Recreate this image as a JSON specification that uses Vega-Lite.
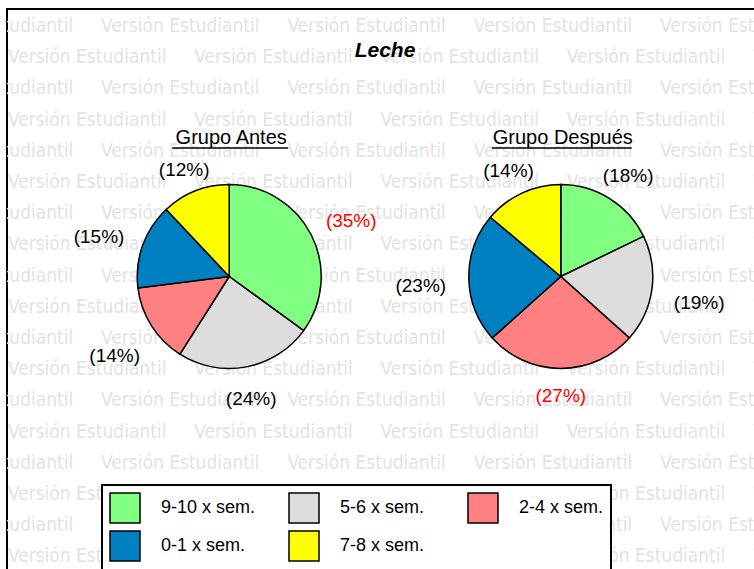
{
  "$schema": "https://vega.github.io/schema/vega-lite/v6.json",
  "width": 756,
  "height": 570,
  "autosize": {"type": "none"},
  "padding": {"left": 7, "top": 9, "right": -9, "bottom": -10},
  "background": "white",
  "title": {"text": "Leche", "font": "Liberation Sans", "fontSize": 21, "fontStyle": "italic", "fontWeight": "bold", "color": "black", "anchor": "middle", "offset": -52},
  "config": {
    "view": {"stroke": "black", "strokeWidth": 2},
    "legend": {
      "orient": "none", "legendX": 95, "legendY": 476, "columns": 3, "direction": "horizontal", "gridAlign": "all",
      "symbolType": "square", "symbolSize": 900, "symbolStrokeColor": "black", "symbolStrokeWidth": 1.5, "symbolOpacity": 1,
      "labelFont": "Liberation Sans", "labelFontSize": 18, "labelColor": "black", "labelOffset": 20, "labelLimit": 300,
      "columnPadding": 30, "rowPadding": 2, "padding": 7,
      "strokeColor": "black", "strokeWidth": 2, "fillColor": "white"
    }
  },
  "layer": [
    {
      "data": {"values": [
        {"r": 1, "cs": [-0.5, 0.5, 1.5, 2.5, 3.5]},
        {"r": 2, "cs": [0, 1, 2, 3, 4]},
        {"r": 3, "cs": [-0.5, 0.5, 1.5, 2.5, 3.5]},
        {"r": 4, "cs": [0, 1, 2, 3, 4]},
        {"r": 5, "cs": [-0.5, 0.5, 1.5, 2.5, 3.5]},
        {"r": 6, "cs": [0, 1, 2, 3, 4]},
        {"r": 7, "cs": [-0.5, 0.5, 1.5, 2.5, 3.5]},
        {"r": 8, "cs": [0, 1, 2, 3, 4]},
        {"r": 9, "cs": [-0.5, 0.5, 1.5, 2.5, 3.5]},
        {"r": 10, "cs": [0, 1, 2, 3, 4]},
        {"r": 11, "cs": [-0.5, 0.5, 1.5, 2.5, 3.5]},
        {"r": 12, "cs": [0, 1, 2, 3, 4]},
        {"r": 13, "cs": [-0.5, 0.5, 1.5, 2.5, 3.5]},
        {"r": 14, "cs": [0, 1, 2, 3, 4]},
        {"r": 15, "cs": [-0.5, 0.5, 1.5, 2.5, 3.5]},
        {"r": 16, "cs": [0, 1, 2, 3, 4]},
        {"r": 17, "cs": [-0.5, 0.5, 1.5, 2.5, 3.5]},
        {"r": 18, "cs": [0, 1, 2, 3, 4]}
      ]},
      "transform": [{"flatten": ["cs"], "as": ["c"]}],
      "mark": {"type": "text", "text": "Versión Estudiantil", "font": "DejaVu Sans Condensed", "fontSize": 19, "color": "#e3e3e3", "align": "left", "baseline": "alphabetic", "clip": true},
      "encoding": {
        "x": {"field": "c", "type": "quantitative", "scale": {"domain": [-0.005, 4.053], "nice": false, "zero": false}, "axis": null},
        "y": {"field": "r", "type": "quantitative", "scale": {"domain": [0.26, 18.53], "nice": false, "zero": false, "reverse": true}, "axis": null}
      }
    },
    {
      "encoding": {
        "x": {"field": "grupo", "type": "nominal", "scale": {"type": "point", "domain": ["Grupo Antes", "Grupo Después"], "padding": 0.64}, "axis": null}
      },
      "layer": [
        {
          "data": {"values": [
            {"grupo": "Grupo Antes", "cat": "9-10 x sem.", "ord": 1, "pct": 35},
            {"grupo": "Grupo Antes", "cat": "5-6 x sem.", "ord": 2, "pct": 24},
            {"grupo": "Grupo Antes", "cat": "2-4 x sem.", "ord": 3, "pct": 14},
            {"grupo": "Grupo Antes", "cat": "0-1 x sem.", "ord": 4, "pct": 15},
            {"grupo": "Grupo Antes", "cat": "7-8 x sem.", "ord": 5, "pct": 12},
            {"grupo": "Grupo Después", "cat": "9-10 x sem.", "ord": 1, "pct": 18},
            {"grupo": "Grupo Después", "cat": "5-6 x sem.", "ord": 2, "pct": 19},
            {"grupo": "Grupo Después", "cat": "2-4 x sem.", "ord": 3, "pct": 27},
            {"grupo": "Grupo Después", "cat": "0-1 x sem.", "ord": 4, "pct": 23},
            {"grupo": "Grupo Después", "cat": "7-8 x sem.", "ord": 5, "pct": 14}
          ]},
          "transform": [
            {"stack": "pct", "groupby": ["grupo"], "sort": [{"field": "ord", "order": "ascending"}], "offset": "normalize", "as": ["t0", "t1"]},
            {"calculate": "(datum.t0 + datum.t1) / 2", "as": "mid"},
            {"calculate": "112 + 28 * abs(sin(2 * PI * datum.mid))", "as": "lr"},
            {"calculate": "'(' + datum.pct + '%)'", "as": "lab"},
            {"joinaggregate": [{"op": "max", "field": "pct", "as": "maxp"}], "groupby": ["grupo"]}
          ],
          "layer": [
            {
              "mark": {"type": "arc", "outerRadius": 92, "stroke": "black", "strokeWidth": 1.5, "xOffset": 10, "yOffset": -17.5},
              "encoding": {
                "theta": {"field": "t0", "type": "quantitative", "scale": {"domain": [0, 1]}, "stack": null},
                "theta2": {"field": "t1"},
                "color": {"field": "cat", "type": "nominal", "title": null,
                  "scale": {"domain": ["9-10 x sem.", "5-6 x sem.", "2-4 x sem.", "0-1 x sem.", "7-8 x sem."], "range": ["#80FF80", "#DDDDDD", "#FF8080", "#0080C0", "#FFFF00"]}}
              }
            },
            {
              "mark": {"type": "text", "font": "Liberation Sans", "fontSize": 19, "align": "center", "baseline": "middle", "xOffset": 10, "yOffset": -10.5},
              "encoding": {
                "theta": {"field": "mid", "type": "quantitative", "stack": null},
                "radius": {"field": "lr", "type": "quantitative", "scale": null},
                "text": {"field": "lab", "type": "nominal"},
                "color": {"condition": {"test": "datum.pct == datum.maxp", "value": "#FF0000"}, "value": "#000000"}
              }
            }
          ]
        },
        {
          "data": {"values": [{"grupo": "Grupo Antes"}, {"grupo": "Grupo Después"}]},
          "mark": {"type": "text", "font": "Liberation Sans", "fontSize": 20, "color": "black", "align": "center", "baseline": "middle", "xOffset": 12, "yOffset": -156},
          "encoding": {"text": {"field": "grupo", "type": "nominal"}}
        },
        {
          "data": {"values": [{"grupo": "Grupo Antes"}]},
          "mark": {"type": "rule", "color": "black", "strokeWidth": 1.5, "xOffset": -47, "x2Offset": 69, "yOffset": -146},
          "encoding": {"x2": {"field": "grupo"}}
        },
        {
          "data": {"values": [{"grupo": "Grupo Después"}]},
          "mark": {"type": "rule", "color": "black", "strokeWidth": 1.5, "xOffset": -59, "x2Offset": 81, "yOffset": -146},
          "encoding": {"x2": {"field": "grupo"}}
        }
      ]
    }
  ],
  "resolve": {"scale": {"x": "independent", "y": "independent"}}
}
